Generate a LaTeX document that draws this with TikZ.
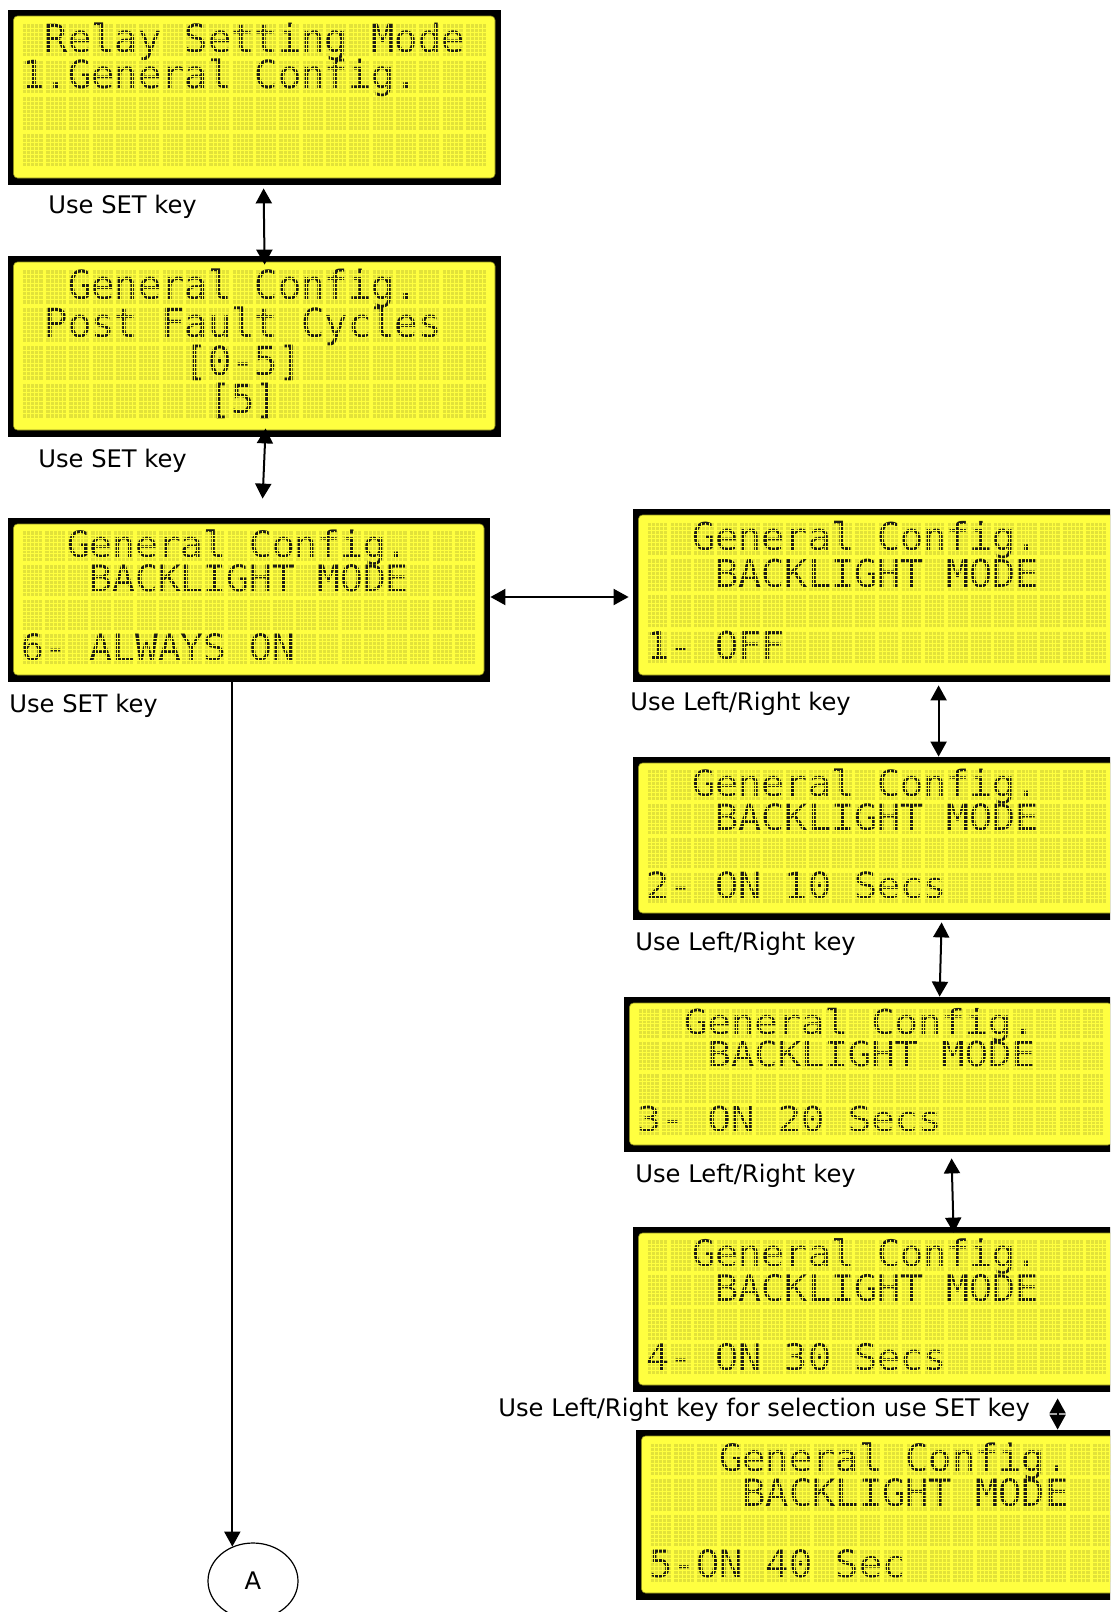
\documentclass[tikz,border=0pt]{standalone}
\usepackage{graphicx}
\usepackage{fontspec}
\setmainfont{DejaVu Sans}
\newfontfamily\lcdfont{DejaVu Sans Mono}
\usetikzlibrary{arrows.meta,calc,shapes.geometric}

\definecolor{lcdyellow}{HTML}{FFFF40}
\definecolor{lcdcell}{HTML}{E2E23A}
\definecolor{lcdink}{HTML}{1C1C14}
\definecolor{lcdrim}{HTML}{8C8C1E}

\tikzset{
  lcdframe/.style={rectangle, fill=black, draw=none, inner sep=0pt},
  lcdtxt/.style={inner sep=0pt, text=lcdink, font=\lcdfont},
  lcdgridline/.style={draw=lcdyellow, line width=0.4pt},
  keylabel/.style={inner sep=0pt, anchor=base west, font=\fontsize{12.1pt}{14pt}\selectfont},
  dbl/.style={line width=1pt, {Triangle[length=7.5pt,width=8pt]}-{Triangle[length=7.5pt,width=8pt]}},
  single/.style={line width=1pt, -{Triangle[length=7.5pt,width=8pt]}},
}

% LCD module: black frame, yellow glass and a 20x4 block of character cells
\newcommand\lcdbase[5]{%
  \pgfmathsetmacro\lcdW{#4-#2}%
  \pgfmathsetmacro\lcdH{#5-#3}%
  \pgfmathsetmacro\lcdWpt{0.5*\lcdW}%
  \pgfmathsetmacro\lcdHpt{0.5*\lcdH}%
  \pgfmathsetmacro\lcdP{(\lcdW-29.7)/19.857}%
  \pgfmathsetmacro\lcdCW{0.857*\lcdP}%
  \pgfmathsetmacro\lcdX{#2+14.7}%
  \pgfmathsetmacro\lcdT{#3+0.08*\lcdH}%
  \pgfmathsetmacro\lcdRP{(0.813*\lcdH)/3.88}%
  \pgfmathsetmacro\lcdCH{0.88*\lcdRP}%
  \pgfmathsetmacro\lcdFS{0.8306*\lcdP}%
  \pgfmathsetmacro\lcdVS{0.6001*\lcdCH/\lcdFS}%
  \node[lcdframe, minimum width=\lcdWpt pt, minimum height=\lcdHpt pt] (#1) at ({(#2+#4)/2},{(#3+#5)/2}) {};
  \fill[lcdyellow, draw=lcdrim, line width=0.3pt, rounded corners=2pt]
    ({#2+5.5},{#3+6}) rectangle ({#4-6},{#5-7});
  \foreach \r in {0,...,3}{\foreach \c in {0,...,19}{%
    \fill[lcdcell] ({\lcdX+\c*\lcdP},{\lcdT+\r*\lcdRP}) rectangle ++(\lcdCW,\lcdCH);}}%
}
% one line of characters: name, row, starting column, text
\newcommand\lcdtext[4]{%
  \node[lcdtxt, anchor=base west] (#1) at ({\lcdX+(#3-0.07)*\lcdP},{\lcdT+(#2-1)*\lcdRP+0.875*\lcdCH})
    {\scalebox{1}[\lcdVS]{\fontsize{\lcdFS pt}{\lcdFS pt}\selectfont #4}};%
}
% dot-matrix raster drawn over the cells (and the characters)
\newcommand\lcdgrid{%
  \foreach \c in {0,...,19}{\foreach \k in {1,...,4}{%
    \draw[lcdgridline] ({\lcdX+\c*\lcdP+\k*\lcdCW/5},{\lcdT}) -- ++(0,{3*\lcdRP+\lcdCH});}}%
  \foreach \r in {0,...,3}{\foreach \k in {1,...,7}{%
    \draw[lcdgridline] ({\lcdX},{\lcdT+\r*\lcdRP+\k*\lcdCH/8}) -- ++({19*\lcdP+\lcdCW},0);}}%
}

\begin{document}
\begin{tikzpicture}[x=0.5pt, y=-0.5pt]
\useasboundingbox (0,0) rectangle (1110,1612);
\clip (0,0) rectangle (1110,1612);
\fill[white] (0,0) rectangle (1110,1612);

% main menu
\lcdbase{p1}{8}{10}{501}{185}
\lcdtext{p1a}{1}{1}{Relay Setting Mode}
\lcdtext{p1b}{2}{0}{1.General Config.}
\lcdgrid

\lcdbase{p2}{8}{256}{501}{437}
\lcdtext{p2a}{1}{2}{General Config.}
\lcdtext{p2b}{2}{1}{Post Fault Cycles}
\lcdtext{p2c}{3}{7}{[0-5]}
\lcdtext{p2d}{4}{8}{[5]}
\lcdgrid

\lcdbase{p3}{8}{518}{490}{682}
\lcdtext{p3a}{1}{2}{General Config.}
\lcdtext{p3b}{2}{3}{BACKLIGHT MODE}
\lcdtext{p3c}{4}{0}{6- ALWAYS ON}
\lcdgrid

% backlight options
\lcdbase{p4}{633}{509}{1121}{682}
\lcdtext{p4a}{1}{2}{General Config.}
\lcdtext{p4b}{2}{3}{BACKLIGHT MODE}
\lcdtext{p4c}{4}{0}{1- OFF}
\lcdgrid

\lcdbase{p5}{633}{757}{1121}{920}
\lcdtext{p5a}{1}{2}{General Config.}
\lcdtext{p5b}{2}{3}{BACKLIGHT MODE}
\lcdtext{p5c}{4}{0}{2- ON 10 Secs}
\lcdgrid

\lcdbase{p6}{624}{997}{1118}{1152}
\lcdtext{p6a}{1}{2}{General Config.}
\lcdtext{p6b}{2}{3}{BACKLIGHT MODE}
\lcdtext{p6c}{4}{0}{3- ON 20 Secs}
\lcdgrid

\lcdbase{p7}{633}{1227}{1121}{1392}
\lcdtext{p7a}{1}{2}{General Config.}
\lcdtext{p7b}{2}{3}{BACKLIGHT MODE}
\lcdtext{p7c}{4}{0}{4- ON 30 Secs}
\lcdgrid

\lcdbase{p8}{636}{1430}{1128}{1600}
\lcdtext{p8a}{1}{3}{General Config.}
\lcdtext{p8b}{2}{4}{BACKLIGHT MODE}
\lcdtext{p8c}{4}{0}{5-ON 40 Sec}
\lcdgrid

% key hints
\node[keylabel] (k1) at (48,213) {Use SET key};
\node[keylabel] (k2) at (38,467) {Use SET key};
\node[keylabel] (k3) at (9,712) {Use SET key};
\node[keylabel] (k4) at (630,710) {Use Left/Right key};
\node[keylabel] (k5) at (635,950) {Use Left/Right key};
\node[keylabel] (k6) at (635,1182) {Use Left/Right key};
\node[keylabel] (k7) at (498,1416) {Use Left/Right key for selection use SET key};

% connector target
\node[draw, ellipse, line width=0.6pt, minimum width=45pt, minimum height=38pt, inner sep=0pt,
      font=\fontsize{12.1pt}{14pt}\selectfont] (A) at (253,1581) {A};

% navigation arrows
\draw[dbl] ($(p1.south west)+(256,3)$) -- ($(p2.north west)+(257,9)$);
\draw[dbl] ($(p2.south west)+(258,-9)$) -- ($(p3.north west)+(255,-19)$);
\draw[dbl] ($(p3.east)+(0,-3)$) -- ($(p4.west)+(-4,1.5)$);
\draw[dbl] ($(p4.south west)+(306,3)$) -- ($(p5.north west)+(306,0)$);
\draw[dbl] ($(p5.south west)+(309,2)$) -- ($(p6.north west)+(316,0)$);
\draw[dbl] ($(p6.south west)+(328,6)$) -- ($(p7.north west)+(321,6)$);
\draw[dbl] ($(p7.south west)+(425,6)$) -- ($(p8.north west)+(422,0)$);
\draw[single] (A.121 |- p3.south) -- (A.121);
\end{tikzpicture}
\end{document}
